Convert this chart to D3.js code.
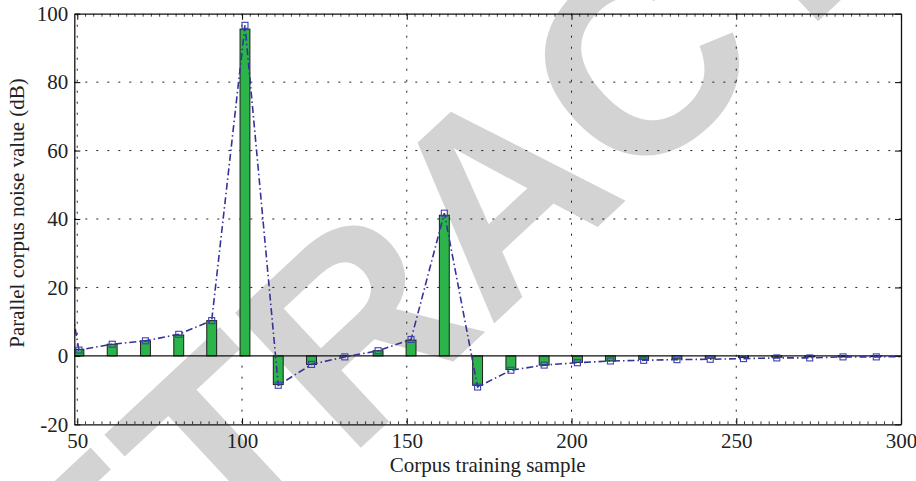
<!DOCTYPE html>
<html>
<head>
<meta charset="utf-8">
<script src="https://cdn.jsdelivr.net/npm/d3@7"></script>
<style>
  html, body { margin: 0; padding: 0; background: #fff; }
  svg { display: block; }
</style>
</head>
<body>
<svg id="chart" width="916" height="481"></svg>
<script>
// ---- data ----
const samples = [50.5, 60.6, 70.7, 80.8, 90.8, 100.9, 111.0, 121.1, 131.2, 141.3, 151.3, 161.4, 171.5,
                 181.6, 191.7, 201.8, 211.8, 221.9, 232.0, 242.1, 252.2, 262.3, 272.3, 282.4, 292.5];
const barValues = [1.9, 3.4, 4.4, 6.1, 10.3, 95.5, -8.4, -2.5, -0.1, 1.5, 4.6, 41.1, -8.6,
                   -4.0, -2.7, -1.9, -1.5, -1.0, -0.9, -0.7, -0.5, -0.4, -0.3, -0.3, -0.2];
const lineValues = [1.7, 3.4, 4.4, 6.3, 10.3, 96.6, -8.6, -2.5, -0.3, 1.5, 4.8, 41.7, -9.1,
                    -4.2, -2.7, -2.0, -1.5, -1.3, -1.1, -1.0, -0.8, -0.6, -0.6, -0.3, -0.3];
// line continues beyond the visible x range on both sides
const lineLeadX = [40.4], lineLeadY = [58];
const lineTailX = [302.6], lineTailY = [-0.2];
const xTicks = [50, 100, 150, 200, 250, 300];
const yTicks = [-20, 0, 20, 40, 60, 80, 100];
const xLabel = "Corpus training sample";
const yLabel = "Parallel corpus noise value (dB)";
const watermark = "RETRACTED";

// ---- layout ----
const svg = d3.select("#chart");
const L = 74.3, R = 901, T = 13.7, B = 424.3;
const x = d3.scaleLinear().domain([49.1, 300]).range([L, R]);
const y = d3.scaleLinear().domain([-20, 100]).range([B, T]);
const serif = "'Liberation Serif', 'Times New Roman', serif";
const fmt = d => String(d); // plain hyphen for negatives, as in the reference

// watermark (behind everything)
svg.append("text")
  .attr("transform", "translate(560,262) rotate(-43)")
  .attr("text-anchor", "middle")
  .attr("font-family", "'Liberation Sans', Arial, sans-serif")
  .attr("font-weight", "bold")
  .attr("font-size", 268)
  .attr("fill", "#d3d3d3")
  .text(watermark);

const defs = svg.append("defs");
defs.append("clipPath").attr("id", "plotclip")
  .append("rect").attr("x", L).attr("y", T).attr("width", R - L).attr("height", B - T);

// grid
const grid = svg.append("g");
grid.selectAll("line.gx").data(xTicks.filter(d => d < 300)).join("line")
  .attr("x1", d => x(d)).attr("x2", d => x(d)).attr("y1", T).attr("y2", B)
  .attr("stroke", "#222").attr("stroke-width", 1).attr("stroke-dasharray", "2,9");
grid.selectAll("line.gy").data(yTicks.filter(d => d > -20 && d < 100 && d !== 0)).join("line")
  .attr("x1", L).attr("x2", R).attr("y1", d => y(d)).attr("y2", d => y(d))
  .attr("stroke", "#222").attr("stroke-width", 1).attr("stroke-dasharray", "2,9");

const plot = svg.append("g").attr("clip-path", "url(#plotclip)");

// bars
plot.selectAll("rect.bar").data(samples).join("rect")
  .attr("class", "bar")
  .attr("x", d => x(d - 1.5))
  .attr("width", d => x(d + 1.5) - x(d - 1.5))
  .attr("y", (d, i) => y(Math.max(0, barValues[i])))
  .attr("height", (d, i) => Math.abs(y(barValues[i]) - y(0)))
  .attr("fill", "#2cb34a").attr("stroke", "#1e1e1e").attr("stroke-width", 1);

// zero line
plot.append("line").attr("x1", L).attr("x2", R).attr("y1", y(0)).attr("y2", y(0))
  .attr("stroke", "#111").attr("stroke-width", 1.4);

// line
const lx = lineLeadX.concat(samples, lineTailX);
const ly = lineLeadY.concat(lineValues, lineTailY);
const pts = lx.map((v, i) => [v, ly[i]]);
plot.append("path").datum(pts)
  .attr("d", d3.line().x(d => x(d[0])).y(d => y(d[1])))
  .attr("fill", "none").attr("stroke", "#33339a").attr("stroke-width", 1.6)
  .attr("stroke-dasharray", "7,3,1.5,3");

// markers
plot.selectAll("rect.mk").data(samples).join("rect")
  .attr("class", "mk")
  .attr("x", d => x(d) - 3).attr("y", (d, i) => y(lineValues[i]) - 3)
  .attr("width", 6).attr("height", 6)
  .attr("fill", "none").attr("stroke", "#4040b0").attr("stroke-width", 1.1);

// frame + ticks
const axB = svg.append("g").attr("transform", `translate(0,${B})`)
  .call(d3.axisBottom(x).tickValues(xTicks).tickSizeInner(-6).tickSizeOuter(0).tickFormat(fmt).tickPadding(9));
const axT = svg.append("g").attr("transform", `translate(0,${T})`)
  .call(d3.axisTop(x).tickValues(xTicks).tickSizeInner(-6).tickSizeOuter(0).tickFormat(""));
const axL = svg.append("g").attr("transform", `translate(${L},0)`)
  .call(d3.axisLeft(y).tickValues(yTicks).tickSizeInner(-6).tickSizeOuter(0).tickFormat(fmt).tickPadding(6));
const axR = svg.append("g").attr("transform", `translate(${R},0)`)
  .call(d3.axisRight(y).tickValues(yTicks).tickSizeInner(-6).tickSizeOuter(0).tickFormat(""));
[axB, axT, axL, axR].forEach(a => {
  a.select(".domain").attr("stroke", "#111").attr("stroke-width", 1.3);
  a.selectAll(".tick line").attr("stroke", "#111").attr("stroke-width", 1.1);
  a.selectAll("text").attr("font-family", serif).attr("font-size", 21).attr("fill", "#222");
});
// minor ticks
const minorX = d3.range(50, 300, 2.5).filter(v => v % 50 !== 0);
svg.append("g").selectAll("line").data(minorX).join("line")
  .attr("x1", d => x(d)).attr("x2", d => x(d)).attr("y1", B).attr("y2", B - 3)
  .attr("stroke", "#111").attr("stroke-width", 0.8);
svg.append("g").selectAll("line").data(minorX).join("line")
  .attr("x1", d => x(d)).attr("x2", d => x(d)).attr("y1", T).attr("y2", T + 3)
  .attr("stroke", "#111").attr("stroke-width", 0.8);

// axis titles
svg.append("text").attr("x", (L + R) / 2).attr("y", 472)
  .attr("text-anchor", "middle").attr("font-family", serif).attr("font-size", 21).attr("fill", "#222")
  .text(xLabel);
svg.append("text").attr("transform", `translate(24,${(T + B) / 2 - 6}) rotate(-90)`)
  .attr("text-anchor", "middle").attr("font-family", serif).attr("font-size", 21).attr("fill", "#222")
  .text(yLabel);
</script>
</body>
</html>
